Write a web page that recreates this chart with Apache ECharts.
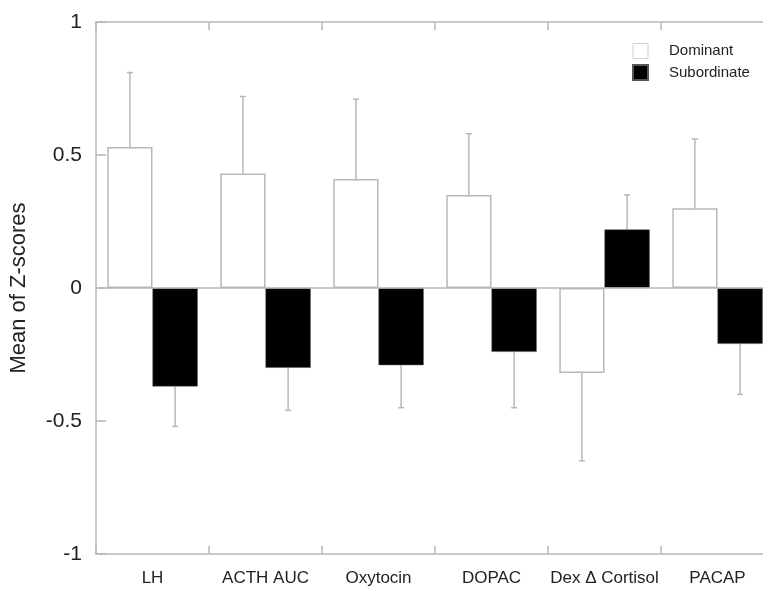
<!DOCTYPE html>
<html>
<head>
<meta charset="utf-8">
<script src="https://cdn.jsdelivr.net/npm/echarts@6/dist/echarts.min.js"></script>
<style>
  html, body { margin: 0; padding: 0; background: #fff; overflow: hidden; }
  /* the original figure is cropped on the right, so the chart is a bit wider than the window */
  #chart { width: 774px; height: 589px; }
</style>
</head>
<body>
<div id="chart"></div>
<script>
var categories = ['LH', 'ACTH AUC', 'Oxytocin', 'DOPAC', 'Dex \u0394 Cortisol', 'PACAP'];
var dominant = [0.53, 0.43, 0.41, 0.35, -0.32, 0.30];
var dominantErr = [0.28, 0.29, 0.30, 0.23, 0.33, 0.26];
var subordinate = [-0.37, -0.30, -0.29, -0.24, 0.22, -0.21];
var subordinateErr = [0.15, 0.16, 0.16, 0.21, 0.13, 0.19];
var yTicks = [-1, -0.5, 0, 0.5, 1];

var axisGrey = '#b8b8b8';
var catGap = 0.2;

// error bar drawn only on the outward side of each bar
function errorSeries(values, errs, side) {
  var data = values.map(function (v, i) {
    var end = v >= 0 ? v + errs[i] : v - errs[i];
    return [i, v, end];
  });
  return {
    type: 'custom',
    silent: true,
    clip: false,
    z: 1,
    data: data,
    encode: { x: 0, y: [1, 2] },
    renderItem: function (params, api) {
      var band = api.size([1, 0])[0];
      var bw = band * (1 - catGap) / 2;
      var p0 = api.coord([api.value(0), api.value(1)]);
      var p1 = api.coord([api.value(0), api.value(2)]);
      var x = p0[0] + side * bw / 2;
      var style = { stroke: axisGrey, lineWidth: 1.5 };
      return {
        type: 'group',
        children: [
          { type: 'line', shape: { x1: x, y1: p0[1], x2: x, y2: p1[1] }, style: style },
          { type: 'line', shape: { x1: x - 3, y1: p1[1], x2: x + 3, y2: p1[1] }, style: style }
        ]
      };
    }
  };
}

var chart = echarts.init(document.getElementById('chart'));
chart.setOption({
  animation: false,
  textStyle: { fontFamily: 'Liberation Sans, Arial, sans-serif' },
  grid: { left: 96, top: 22, bottom: 35, right: 0 },
  legend: {
    orient: 'vertical',
    left: 627,
    top: 38,
    itemWidth: 15,
    itemHeight: 15,
    itemGap: 5,
    icon: 'rect',
    textStyle: { fontSize: 15, color: '#222', padding: [0, 0, 0, 16] },
    data: [
      { name: 'Dominant', itemStyle: { color: '#fff', borderColor: '#d0d0d0', borderWidth: 1 } },
      { name: 'Subordinate', itemStyle: { color: '#000' } }
    ]
  },
  xAxis: [
    {
      type: 'category',
      data: categories,
      position: 'bottom',
      axisLine: { show: true, onZero: false, lineStyle: { color: axisGrey, width: 1.5 } },
      axisTick: { show: true, inside: true, length: 8, interval: 0, lineStyle: { color: axisGrey, width: 1.5 } },
      axisLabel: { fontSize: 17, color: '#222', margin: 16, interval: 0 }
    },
    {
      type: 'category',
      data: categories,
      position: 'top',
      axisLine: { show: true, onZero: false, lineStyle: { color: axisGrey, width: 1.5 } },
      axisTick: { show: true, inside: true, length: 8, interval: 0, lineStyle: { color: axisGrey, width: 1.5 } },
      axisLabel: { show: false }
    }
  ],
  yAxis: {
    type: 'value',
    min: yTicks[0],
    max: yTicks[yTicks.length - 1],
    interval: 0.5,
    name: 'Mean of Z-scores',
    nameLocation: 'middle',
    nameRotate: 90,
    nameGap: 66,
    nameTextStyle: { fontSize: 22, color: '#222' },
    axisLine: { show: true, lineStyle: { color: axisGrey, width: 1.5 } },
    axisTick: { show: true, inside: true, length: 10, lineStyle: { color: axisGrey, width: 1.5 } },
    axisLabel: { fontSize: 21, color: '#222', margin: 14 },
    splitLine: { show: false }
  },
  series: [
    {
      name: 'Dominant',
      type: 'bar',
      data: dominant,
      barGap: 0,
      barCategoryGap: (catGap * 100) + '%',
      z: 2,
      itemStyle: { color: '#fff', borderColor: axisGrey, borderWidth: 1.5 },
      markLine: {
        silent: true,
        symbol: 'none',
        label: { show: false },
        lineStyle: { color: axisGrey, type: 'solid', width: 1.5 },
        data: [{ yAxis: 0 }]
      }
    },
    {
      name: 'Subordinate',
      type: 'bar',
      data: subordinate,
      z: 2,
      itemStyle: { color: '#000', borderColor: '#555', borderWidth: 0.5 }
    },
    errorSeries(dominant, dominantErr, -1),
    errorSeries(subordinate, subordinateErr, 1)
  ]
});
</script>
</body>
</html>
